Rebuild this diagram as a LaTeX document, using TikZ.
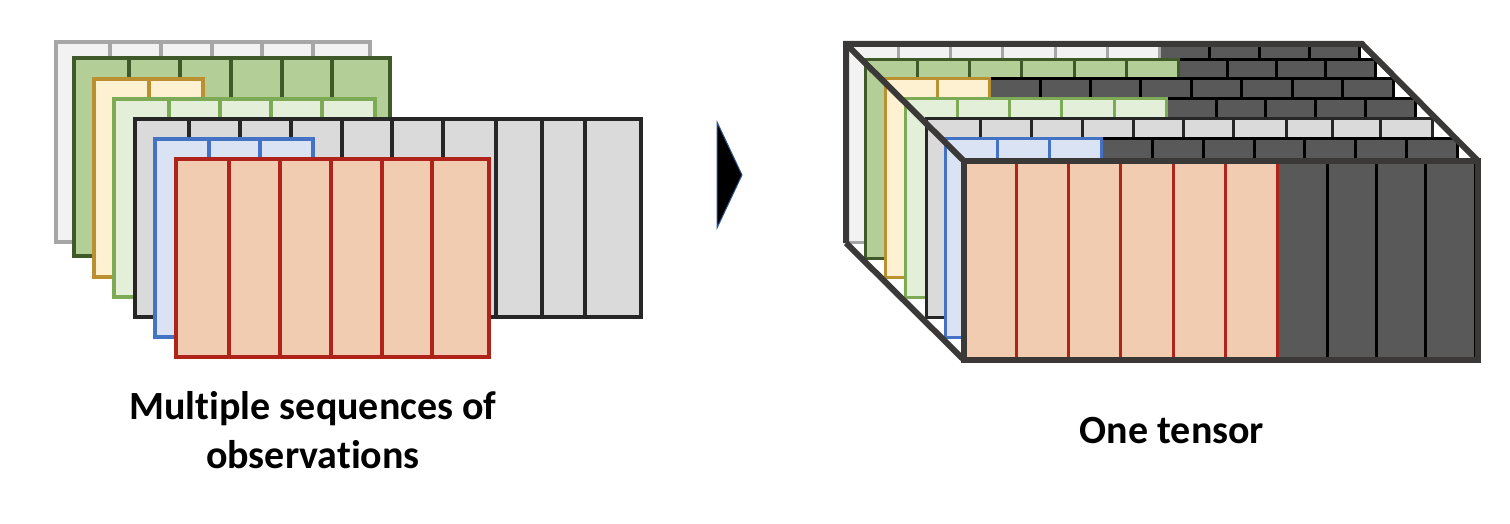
\documentclass[tikz,border=0pt]{standalone}
\usepackage{fontspec}
\setmainfont{Carlito}[Ligatures=NoCommon]
\definecolor{cLgF}{HTML}{F2F2F2}
\definecolor{cLgS}{HTML}{A6A6A6}
\definecolor{cGrF}{HTML}{B3CF97}
\definecolor{cGrS}{HTML}{3F5A28}
\definecolor{cYeF}{HTML}{FDF1D2}
\definecolor{cYeS}{HTML}{BA9030}
\definecolor{cLnF}{HTML}{E3EFD9}
\definecolor{cLnS}{HTML}{7DAB55}
\definecolor{cGyF}{HTML}{DADADA}
\definecolor{cGyS}{HTML}{262626}
\definecolor{cBlF}{HTML}{DAE3F3}
\definecolor{cBlS}{HTML}{4472C4}
\definecolor{cRdF}{HTML}{F1CCB1}
\definecolor{cRdS}{HTML}{B0231A}
\definecolor{cDkF}{HTML}{595959}
\definecolor{cFrame}{HTML}{3B3838}
\definecolor{cArrow}{HTML}{2F5597}
% left-stack layer: x0 y0 x1 y1 {dividers} fill drawopts
\newcommand\lay[7]{%
  \fill[#6] (#1,#2) rectangle (#3,#4);
  \foreach \c in {#5} \draw[#7] (\c,#2) -- (\c,#4);
  \draw[#7] (#1,#2) rectangle (#3,#4);
}
% tensor layer: x0 y0 xright ncoloured fill stroke
\newcommand\tlay[6]{%
  \pgfmathsetmacro\xs{#1+#4*52.3}%
  \pgfmathsetmacro\yb{#2+198}%
  \pgfmathsetmacro\dw{(#3-\xs)/(10-#4)}%
  \pgfmathtruncatemacro\nm{#4-1}%
  \pgfmathtruncatemacro\nd{9-#4}%
  \fill[cDkF] (\xs,#2) rectangle (#3,\yb);
  \foreach \k in {1,...,\nd} \draw[black,line width=3] ({\xs+\k*\dw},#2) -- ({\xs+\k*\dw},\yb);
  \draw[black,line width=3] (\xs,#2) rectangle (#3,\yb);
  \fill[#5] (#1,#2) rectangle (\xs,\yb);
  \foreach \k in {1,...,\nm} \draw[#6,line width=3] ({#1+\k*52.3},#2) -- ({#1+\k*52.3},\yb);
  \draw[#6,line width=3] (#1,#2) rectangle (\xs,\yb);
}
\tikzset{lbl/.style={font=\bfseries\fontsize{40}{48}\selectfont, anchor=base, inner sep=0pt}}
\begin{document}
\begin{tikzpicture}[x=1pt,y=-1pt]
\useasboundingbox (0,0) rectangle (1510,524);
\fill[white] (0,0) rectangle (1510,524);
% ---------- left: multiple sequences ----------
\lay{56}{42}{370}{242}{110,161,212,262,313}{cLgF}{cLgS,line width=4}
\lay{74}{58}{390}{256}{129,180,231,282,332}{cGrF}{cGrS,line width=4}
\lay{94}{79}{203}{277}{149}{cYeF}{cYeS,line width=4}
\lay{114}{99}{375}{297}{169,220,271,322}{cLnF}{cLnS,line width=4}
\lay{135}{119}{641}{317}{189,240,291,342,392,443,496,542,585}{cGyF}{cGyS,line width=4}
\lay{155}{139}{313}{337}{209,260}{cBlF}{cBlS,line width=4}
\lay{176}{159}{489}{357}{229,280,331,382,432}{cRdF}{cRdS,line width=4}
% ---------- arrow ----------
\filldraw[fill=black,draw=cArrow,line width=1] (717,122) -- (742,175) -- (717,228) -- cycle;
% ---------- right: one tensor ----------
\tlay{846}{44}{1359}{6}{cLgF}{cLgS}
\tlay{865}{60}{1375}{6}{cGrF}{cGrS}
\tlay{885}{79}{1393}{2}{cYeF}{cYeS}
\tlay{905}{99}{1415}{5}{cLnF}{cLnS}
\lay{926}{119}{1432}{317}{980,1031,1082,1133,1183,1233,1286,1332,1380}{cGyF}{cGyS,line width=3}
\tlay{945}{139}{1457}{3}{cBlF}{cBlS}
\tlay{964}{161}{1475}{6}{cRdF}{cRdS}
% frame
\draw[cFrame,line width=6] (846,243) -- (846,44) -- (1362,44) -- (1478,161);
\draw[cFrame,line width=6] (846,44) -- (964,161);
\draw[cFrame,line width=6] (846,243) -- (964,360);
\draw[cFrame,line width=6] (964,161) rectangle (1478,360);
% ---------- labels ----------
\node[lbl] (seq1) at (313,419) {Multiple sequences of};
\node[lbl] (seq2) at (313,468) {observations};
\node[lbl] (tens) at (1172,443) {One tensor};
\end{tikzpicture}
\end{document}
